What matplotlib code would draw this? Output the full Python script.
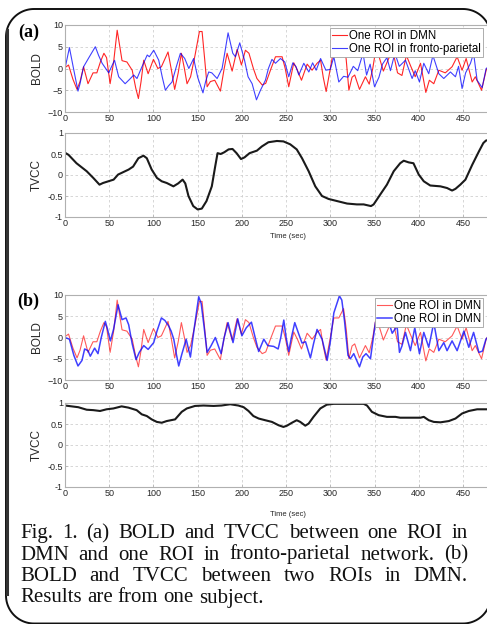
import numpy as np
import matplotlib
matplotlib.use("Agg")
import matplotlib.pyplot as plt
from matplotlib.lines import Line2D
from matplotlib.transforms import IdentityTransform

W, H = 487, 624

# ---- data ----
# BOLD of the DMN ROI (same red trace in both panels)
red_t = [0, 4, 9, 13.6, 17, 21, 26, 31.7, 36, 40, 44, 47, 51, 55, 59, 62, 64.5, 70, 76, 80,
         83, 86, 89, 94, 100, 105, 109, 116.5, 120, 124, 128, 131.6, 135, 138, 142, 147, 152, 155,
         158, 160.7, 164.4, 169.3, 175.7, 180, 183.3, 189, 194.6, 199.5, 204, 208, 213, 217, 223,
         227, 233, 238, 245.5, 249, 253, 258.7, 263, 267.4, 273.8, 279.4, 285, 289, 292, 295.3,
         300, 304, 309.6, 315, 318, 321, 324.6, 327.6, 333, 339.7, 344, 348, 351, 355, 360, 366,
         371, 376, 381, 386, 391, 396, 402, 408, 412, 417, 422.7, 430, 437.7, 443.4, 449, 453.6,
         460.4, 464, 471, 476.2, 480]
red_v = [0.2, 0.8, -2.5, -4.8, -3.0, 0.4, -3.5, -1.0, -1.0, 1.5, 3.5, 2.5, -3.5, 1.5, 8.8, 5.0,
         1.8, 1.5, -0.4, -4.5, -6.9, -3.0, 1.9, -1.2, 2.1, 0.0, 0.4, 3.8, 0.0, -4.8, -1.0, 3.5,
         0.0, -3.5, -1.9, 3.0, 8.5, 8.5, 2.0, -4.2, -3.0, -2.7, -5.2, 0.0, 3.5, -0.6, 4.4, 0.8,
         4.2, 3.5, 0.0, -2.3, -3.8, -3.4, 0.0, 2.7, 2.7, 0.0, -4.2, 1.3, -0.5, -2.7, 1.0, -0.4,
         1.2, 1.9, -2.0, -5.3, 0.0, 4.6, 4.6, 6.8, 2.0, -5.0, -2.0, -1.5, -4.8, -1.9, -3.6, 0.0,
         3.8, 2.8, -0.6, 2.3, 3.8, -1.0, -1.6, 3.0, 0.5, -1.9, 1.2, -5.5, -2.7, -3.5, -0.4, -1.0,
         0.4, 2.7, -0.4, 2.3, -3.1, -1.9, -5.0, -0.4, 1.0]

# BOLD of the fronto-parietal ROI, panel (a)
fp_t = [0, 5, 10, 14.7, 17, 21, 27, 34.3, 38, 42, 49.4, 56, 60.7, 68, 73, 77.7, 81.4, 87, 93,
        95.4, 100.3, 106, 110, 113.5, 117, 121, 126, 130.5, 135.4, 140, 145.5, 150, 156, 159,
        162.5, 166, 172, 177.6, 181, 184.4, 189.7, 192.7, 197.6, 203, 207, 211.6, 216.5, 221,
        226.6, 230, 234, 238, 243.6, 248.5, 253, 257.6, 261.3, 264.4, 270, 275.7, 280, 284, 289,
        295, 300, 304, 309.6, 315, 320, 326, 331, 337, 341, 345, 350, 355, 359, 364, 368, 373,
        378, 385, 392.5, 396, 400.8, 405.7, 411.3, 416, 422.7, 428.3, 435.8, 441.5, 445, 449,
        453, 458.5, 462, 466, 471.7, 476.2, 480]
fp_v = [0.0, 4.8, -0.4, -5.2, -3.5, 0.4, 2.5, 5.0, 3.0, 1.2, -1.0, 1.9, -1.9, -3.5, -2.5, -1.5,
        -2.3, 0.4, 3.1, 2.7, 4.2, 1.9, -2.0, -5.0, -4.0, -3.1, 0.5, 3.5, 2.3, 0.0, 2.3, -2.0,
        -5.6, -3.0, -0.8, -1.0, -2.3, 0.0, 4.0, 8.2, 3.5, 2.7, 5.9, 1.9, -1.9, -3.5, -7.2, -5.0,
        -2.7, 0.0, 2.1, 1.2, 2.3, 1.5, -1.9, 1.3, 0.4, -1.5, 1.2, -0.8, 1.3, -0.4, 2.3, -0.4,
        -0.2, 2.7, -3.1, -1.8, -2.0, 0.5, -0.5, 3.5, -1.5, 1.0, -4.2, -2.0, 1.0, 2.5, -0.5, 3.5,
        0.5, 1.9, -2.3, -0.5, -3.1, 1.2, -1.2, 3.0, -1.2, -2.3, -0.8, -1.9, 0.5, -4.6, -1.0,
        1.2, 3.5, -2.7, -4.4, 0.0, 0.5]

# BOLD of the second DMN ROI, panel (b)
dmn2_t = [0, 5, 10, 14.7, 19.2, 22.2, 26, 28.6, 33.5, 37.3, 41, 45.6, 48, 51.3, 55, 60, 64.5,
          69, 72, 76, 80.3, 84, 89, 94, 100.3, 104, 109, 113, 117.3, 120, 123, 126, 128.6, 132,
          137, 141.8, 146, 151.2, 154, 157, 160.7, 165, 170, 176.5, 180, 184.4, 190, 195.3, 200,
          205, 210.8, 215, 219, 224.8, 229.3, 236, 241, 244, 247.4, 250, 253, 256, 259.8, 264,
          268, 272, 277.5, 281, 285, 290.7, 296.4, 300, 304, 310.3, 313, 316, 320, 322.7, 326.5,
          333, 336.7, 340.4, 345.4, 348, 351, 355, 360, 364, 370, 375.5, 378.2, 381, 385, 390.6,
          395.5, 400.8, 405.7, 411.3, 417, 422.7, 428.3, 432, 437.7, 443.4, 451, 456.6, 462,
          468, 472, 476, 480]
dmn2_v = [0.0, -0.4, -4.2, -6.7, -5.4, -2.7, -3.1, -4.4, -2.5, -3.8, 0.0, 3.8, 2.0, -0.8, 2.0,
          7.7, 4.2, 4.6, 3.0, -1.5, -5.2, -3.5, -1.9, -2.8, -1.2, 1.5, 4.6, 4.0, 2.7, 1.5, -0.4,
          -4.0, -6.7, -4.0, -0.4, -4.6, 2.0, 9.6, 8.0, 3.0, -3.5, -2.0, 0.0, -3.8, 0.0, 3.5,
          -1.2, 4.4, 0.4, 2.3, 3.6, 0.0, -3.3, -0.4, -1.9, -2.1, -2.7, 0.0, 4.1, 0.0, -3.3, 0.0,
          3.5, 1.0, -1.3, -1.0, -4.8, -1.5, 1.9, -0.4, -5.4, -1.0, 5.8, 9.8, 8.8, 4.0, -4.2,
          -5.0, -3.8, -6.9, -4.6, -3.8, -5.0, -1.0, 3.5, 5.0, 2.5, 5.0, 1.0, 2.7, -3.5, -2.0,
          1.2, -3.1, 2.3, -3.8, 1.2, -2.3, 3.5, -3.1, -1.2, -3.1, -0.8, -3.1, 1.5, -2.3, 1.2,
          -3.5, -3.2, -0.4, 0.5]

# time-varying correlation, panel (a)
tvcc_a_t = [0.8, 4, 13, 24.5, 32, 39, 43, 55, 60, 72, 77, 83, 88.7, 92.5, 98, 104, 109.4, 115,
            122.6, 128, 133, 136, 139.6, 145, 150, 154.7, 160, 166, 169.8, 172.5, 176, 180, 185,
            189.4, 194, 199, 203, 208.7, 217, 222.6, 230, 239.6, 247, 254.7, 262, 268, 275.5,
            283, 290.6, 298, 307.5, 319, 330, 337.7, 346, 349, 356.6, 364, 371.7, 379, 383,
            388.7, 394, 400, 405.7, 413, 424.5, 432, 437.7, 441.5, 447, 452.8, 460.4, 468, 473,
            476, 480]
tvcc_a_v = [0.52, 0.48, 0.28, 0.09, -0.07, -0.23, -0.19, -0.11, 0.01, 0.13, 0.2, 0.4, 0.46,
            0.4, 0.13, -0.07, -0.15, -0.19, -0.27, -0.2, -0.11, -0.2, -0.5, -0.74, -0.82, -0.8,
            -0.62, -0.27, 0.2, 0.52, 0.5, 0.54, 0.61, 0.62, 0.52, 0.38, 0.42, 0.52, 0.58, 0.68,
            0.78, 0.81, 0.8, 0.73, 0.61, 0.4, 0.09, -0.27, -0.5, -0.57, -0.62, -0.68, -0.7, -0.7,
            -0.74, -0.7, -0.46, -0.23, 0.09, 0.28, 0.34, 0.3, 0.28, 0.01, -0.15, -0.25, -0.27,
            -0.31, -0.37, -0.33, -0.23, -0.11, 0.24, 0.56, 0.76, 0.82, 0.84]

# time-varying correlation, panel (b)
tvcc_b_t = [0, 15, 24.5, 32, 39.6, 47, 54.7, 64, 71.7, 81, 86.8, 92.5, 98, 103.8, 109.4, 115,
            124.5, 132, 137.7, 147, 156.6, 168, 177, 186.8, 196, 202, 207.5, 213, 219, 226.4,
            234, 241.5, 247, 251, 256.6, 262, 266, 271.7, 275.5, 281, 288.7, 296, 303.8, 322.6,
            337.7, 341.5, 347, 354.7, 364, 373.6, 379, 388.7, 402, 405.7, 411.3, 417, 424.5, 434,
            441.5, 449, 456.6, 466, 475.5, 480]
tvcc_b_v = [0.94, 0.9, 0.84, 0.83, 0.81, 0.85, 0.87, 0.92, 0.89, 0.83, 0.73, 0.69, 0.61, 0.55,
            0.53, 0.57, 0.61, 0.79, 0.87, 0.93, 0.94, 0.93, 0.94, 0.97, 0.94, 0.9, 0.81, 0.69,
            0.63, 0.59, 0.55, 0.47, 0.43, 0.46, 0.53, 0.59, 0.55, 0.46, 0.51, 0.67, 0.87, 0.96,
            0.98, 0.98, 0.98, 0.94, 0.79, 0.71, 0.67, 0.67, 0.65, 0.65, 0.65, 0.67, 0.59, 0.55,
            0.54, 0.57, 0.63, 0.75, 0.81, 0.85, 0.85, 0.85]

xticks = [0, 50, 100, 150, 200, 250, 300, 350, 400, 450]
bold_ticks = [-10, -5, 0, 5, 10]
tvcc_ticks = [-1, -0.5, 0, 0.5, 1]
tvcc_ticklabels = ["-1", "-0.5", "0", "0.5", "1"]

caption_lines = [
    "Fig. 1. (a) BOLD and TVCC between one ROI in",
    "DMN and one ROI in fronto-parietal network. (b)",
    "BOLD and TVCC between two ROIs in DMN.",
    "Results are from one subject.",
]

plt.rcParams["font.family"] = ["Liberation Sans", "DejaVu Sans"]

fig = plt.figure(figsize=(W / 100, H / 100), dpi=100)
fig.patch.set_facecolor("white")


def px_axes(left, top, right, bottom):
    return fig.add_axes([left / W, 1 - bottom / H, (right - left) / W, (bottom - top) / H])


def style(ax, yticks, ylabels=None):
    ax.set_xlim(0, 480)
    ax.set_xticks(xticks)
    ax.set_yticks(yticks)
    if ylabels is not None:
        ax.set_yticklabels(ylabels)
    ax.set_ylim(yticks[0], yticks[-1])
    ax.grid(True, linestyle=(0, (3, 3)), color="#d0d0d0", linewidth=0.6)
    ax.set_axisbelow(True)
    for s in ax.spines.values():
        s.set_color("#b0b0b0")
        s.set_linewidth(0.8)
    ax.tick_params(direction="in", length=2, width=0.5, color="#b0b0b0",
                   labelsize=6.5, labelcolor="#262626", pad=1.5)


def bold_panel(top, bottom, blue_t, blue_v, blue_label, red_alpha, blue_lw):
    ax = px_axes(65, top, 489.5, bottom)
    ax.plot(red_t, red_v, color="#ff0000", lw=0.8, alpha=red_alpha, label="One ROI in DMN")
    ax.plot(blue_t, blue_v, color="#0000ff", lw=blue_lw, alpha=0.75, label=blue_label)
    style(ax, bold_ticks)
    ax.set_ylabel("BOLD", fontsize=8.5, color="#262626")
    ax.yaxis.set_label_coords(-0.053, 0.5)
    leg = ax.legend(loc="upper right", bbox_to_anchor=(0.985, 0.965), fontsize=8.3,
                    frameon=True, fancybox=False, framealpha=1, edgecolor="#a0a0a0",
                    handlelength=1.3, handletextpad=0.15, borderpad=0.2, labelspacing=0.05,
                    borderaxespad=0)
    leg.get_frame().set_linewidth(0.6)
    return ax


def tvcc_panel(top, bottom, t, v, label_y):
    ax = px_axes(65, top, 489.5, bottom)
    ax.plot(t, v, color="#1a1a1a", lw=1.5)
    style(ax, tvcc_ticks, tvcc_ticklabels)
    ax.set_ylabel("TVCC", fontsize=8.5, color="#262626")
    ax.yaxis.set_label_coords(-0.053, 0.5)
    fig.text(288 / W, 1 - label_y / H, "Time (sec)", fontsize=5.5, color="#262626",
             ha="center", va="center")
    return ax


bold_panel(25, 112, fp_t, fp_v, "One ROI in fronto-parietal", 0.85, 0.8)
tvcc_panel(133, 217, tvcc_a_t, tvcc_a_v, 236)
bold_panel(295, 380, dmn2_t, dmn2_v, "One ROI in DMN", 0.65, 1.1)
tvcc_panel(403, 487, tvcc_b_t, tvcc_b_v, 515)

# panel letters
fig.text(18 / W, 1 - 37 / H, "(a)", fontsize=13, fontweight="bold",
         family="Liberation Serif", va="baseline")
fig.text(17 / W, 1 - 306 / H, "(b)", fontsize=13, fontweight="bold",
         family="Liberation Serif", va="baseline")


# rounded frame around the whole figure, as a polyline in pixels (right side runs off)
def rounded_rect(x0, y0, x1, y1, r, n=24):
    xs, ys = [], []
    corners = [(x1 - r, y1 - r, 0), (x0 + r, y1 - r, 90), (x0 + r, y0 + r, 180),
               (x1 - r, y0 + r, 270)]
    for cx, cy, a0 in corners:
        ang = np.radians(np.linspace(a0, a0 + 90, n))
        xs.extend(cx + r * np.cos(ang))
        ys.extend(cy + r * np.sin(ang))
    xs.append(xs[0])
    ys.append(ys[0])
    return xs, ys


fx, fy = rounded_rect(6, 0.5, 491, 615, 28)
fig.add_artist(Line2D(fx, fy, transform=IdentityTransform(), color="#111111", lw=1.4,
                      solid_joinstyle="round"))
fig.add_artist(Line2D([6.5, 6.5], [30, 594], transform=IdentityTransform(),
                      color="#333333", lw=2.2))

# justified caption
cap_left, cap_right = 20, 468
baselines = [538, 559.5, 581, 602.5]
cap_kw = dict(fontsize=15, family="Liberation Serif", va="baseline", color="#111111")
fig.canvas.draw()
renderer = fig.canvas.get_renderer()
probe_a = fig.text(0, 0, "a a", **cap_kw)
probe_b = fig.text(0, 0, "aa", **cap_kw)
space_w = (probe_a.get_window_extent(renderer).width
           - probe_b.get_window_extent(renderer).width)
probe_a.remove()
probe_b.remove()
for i, line in enumerate(caption_lines):
    words = line.split()
    texts = [fig.text(0, 1 - baselines[i] / H, w, **cap_kw) for w in words]
    widths = [t.get_window_extent(renderer).width for t in texts]
    if i < len(caption_lines) - 1:
        gap = (cap_right - cap_left - sum(widths)) / (len(words) - 1)
    else:
        gap = space_w
    x = cap_left
    for t, wd in zip(texts, widths):
        t.set_x(x / W)
        x += wd + gap

fig.savefig("out.png", dpi=100)
